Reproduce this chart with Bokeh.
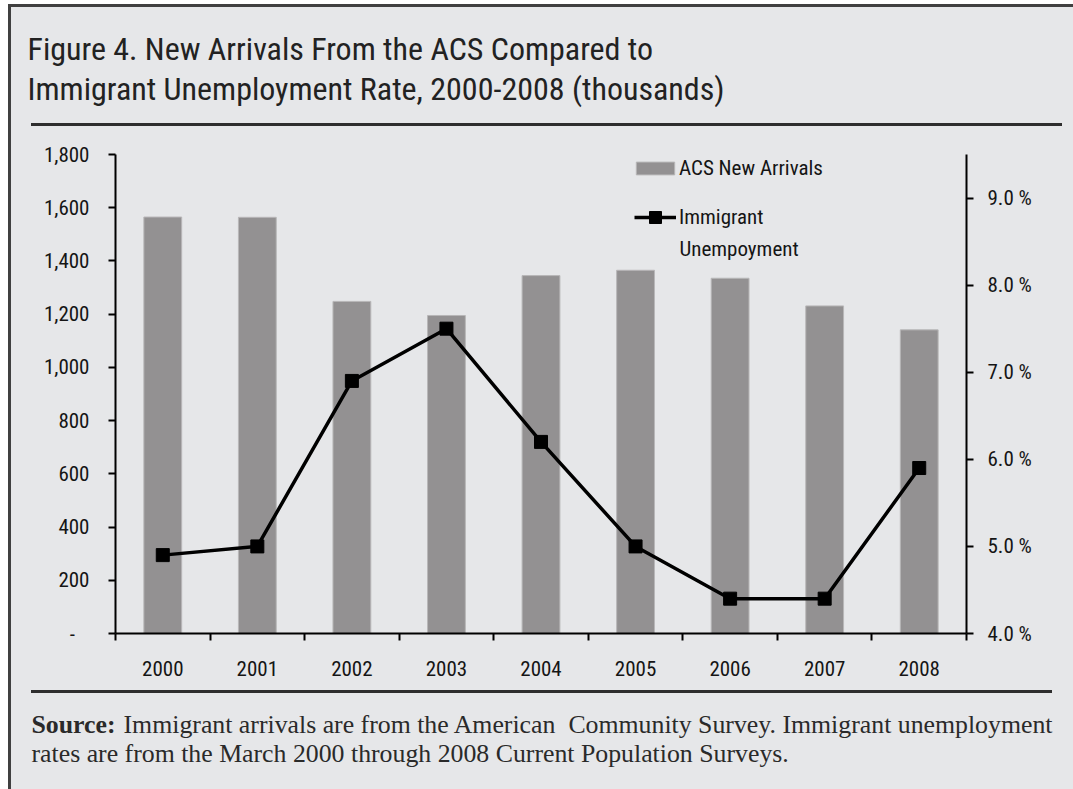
from bokeh.plotting import figure
from bokeh.models import (Range1d, LinearAxis, FixedTicker, PrintfTickFormatter,
                          NumeralTickFormatter, Legend, LegendItem, Label)
from bokeh.embed import file_html
from bokeh.resources import INLINE

# ---------------- data ----------------
years = ["2000", "2001", "2002", "2003", "2004", "2005", "2006", "2007", "2008"]
arrivals = [1565, 1564, 1248, 1195, 1345, 1365, 1335, 1231, 1141]          # thousands
unemployment = [4.9, 5.0, 6.9, 7.5, 6.2, 5.0, 4.4, 4.4, 5.9]                # percent
left_ticks = [0, 200, 400, 600, 800, 1000, 1200, 1400, 1600, 1800]
right_ticks = [4, 5, 6, 7, 8, 9]

title_lines = ["Figure 4. New Arrivals From the ACS Compared to",
               "Immigrant Unemployment Rate, 2000-2008 (thousands)"]

# ---------------- layout constants ----------------
W, H = 1073, 789
L, R, T, B = 115, 966, 154, 633
SANS = "Liberation Sans Narrow, Arial Narrow, Roboto Condensed, sans-serif"
SERIF = "Liberation Serif, serif"
BG = "#e6e7e9"
BAR = "#939192"
DARK = "#2e2e2e"

# page decorations (outer box and the two rules) painted behind the transparent canvas
css_bg = ", ".join([
    f"linear-gradient({DARK},{DARK}) 31px 123px / 1031px 3px no-repeat",
    f"linear-gradient({DARK},{DARK}) 31px 690px / 1021px 3px no-repeat",
    "linear-gradient(#404040,#404040) 8px 4px / 3px 900px no-repeat",
    "linear-gradient(#404040,#404040) 8px 4px / 1200px 3px no-repeat",
    f"linear-gradient({BG},{BG}) 11px 7px / 1200px 900px no-repeat",
    "white",
])

xs = [i + 0.5 for i in range(len(years))]

p = figure(width=W, height=H, x_range=Range1d(0, len(years)), y_range=Range1d(0, 1800),
           output_backend="svg", toolbar_location=None,
           min_border_left=L, min_border_right=W - R, min_border_top=T, min_border_bottom=H - B,
           styles={"background": css_bg})
p.extra_y_ranges = {"pct": Range1d(4, 9.5)}
p.background_fill_color = BG
p.border_fill_alpha = 0
p.outline_line_color = None
p.xgrid.visible = False
p.ygrid.visible = False

# bars and line
bars = p.vbar(x=xs, top=arrivals, bottom=0, width=0.4, fill_color=BAR,
              line_color="#b8b7b8", line_width=1)
line_r = p.line(xs, unemployment, y_range_name="pct", line_color="black", line_width=3.5)
pts = p.scatter(xs, unemployment, y_range_name="pct", marker="square", size=13,
                fill_color="black", line_color="black")

# axes
def style_axis(ax):
    ax.axis_line_width = 2
    ax.axis_line_color = "black"
    ax.major_tick_line_width = 2
    ax.major_tick_line_color = "black"
    ax.major_tick_in = 0
    ax.major_tick_out = 7
    ax.minor_tick_line_color = None
    ax.major_label_text_font = SANS
    ax.major_label_text_font_size = "21px"
    ax.major_label_text_color = "#151515"

ya = p.yaxis[0]
style_axis(ya)
ya.ticker = FixedTicker(ticks=left_ticks)
ya.formatter = NumeralTickFormatter(format="0,0")
ya.major_label_overrides = {0: "-\u00a0\u00a0\u00a0"}
ya.major_label_standoff = 19

xa = p.xaxis[0]
style_axis(xa)
xa.ticker = FixedTicker(ticks=xs, minor_ticks=list(range(len(years) + 1)))
xa.major_label_overrides = {x: y for x, y in zip(xs, years)}
xa.major_tick_line_color = None
xa.minor_tick_line_color = "black"
xa.minor_tick_line_width = 2
xa.minor_tick_in = 0
xa.minor_tick_out = 7
xa.major_label_standoff = 20

ra = LinearAxis(y_range_name="pct", ticker=FixedTicker(ticks=right_ticks),
                formatter=PrintfTickFormatter(format="%.1f %%"))
style_axis(ra)
ra.major_label_standoff = 14
p.add_layout(ra, "right")

# legends
def mk_legend(item, loc, gw, gh, standoff):
    return Legend(items=[item], location=loc, glyph_width=gw, glyph_height=gh,
                  label_standoff=standoff, padding=0, margin=0, spacing=0,
                  border_line_color=None, background_fill_alpha=0,
                  label_text_font=SANS, label_text_font_size="21px",
                  label_text_color="#151515")

leg1 = mk_legend(LegendItem(label="ACS New Arrivals", renderers=[bars]),
                 (631 - L, B - 180), 48, 16, 0)
leg2 = mk_legend(LegendItem(label="Immigrant", renderers=[line_r, pts]),
                 (634 - L, B - 232), 42, 30, 3)
p.add_layout(leg1)
p.add_layout(leg2)
p.add_layout(Label(x=679, y=248, x_units="canvas", y_units="canvas", text="Unempoyment",
                   text_font=SANS, text_font_size="21px", text_color="#151515",
                   text_baseline="middle"))

# title (canvas coordinates, placed in the top panel)
for txt, yb in zip(title_lines, [48, 88]):
    p.add_layout(Label(x=27, y=yb, x_units="canvas", y_units="canvas", text=txt,
                       text_font=SANS, text_font_size="32px", text_color="#222222",
                       text_baseline="alphabetic"), "above")

# source note (canvas coordinates)
src = dict(text_font=SERIF, text_font_size="25.8px", text_color="#2a2a2a",
           text_baseline="alphabetic", x_units="canvas", y_units="canvas")
p.add_layout(Label(x=31, y=724, text="Source:", text_font_style="bold", **src), "above")
p.add_layout(Label(x=31, y=753,
                   text="rates are from the March 2000 through 2008 Current Population Surveys.",
                   **src), "above")
p.add_layout(Label(x=123, y=724, text="Immigrant arrivals are from the American", **src), "below")
p.add_layout(Label(x=1052, y=724, text="Community Survey. Immigrant unemployment",
                   text_align="right", **src), "below")

open("out.html", "w").write(file_html(p, INLINE))
